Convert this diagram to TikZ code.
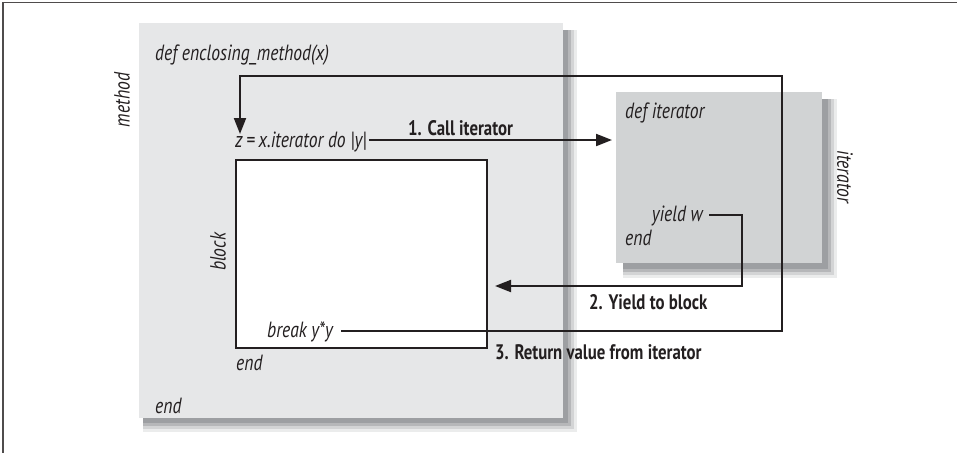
\documentclass[tikz,border=0pt]{standalone}
\usepackage{fontspec}
\setmainfont{PT Sans}[FakeStretch=0.8]
\usetikzlibrary{arrows.meta}
\definecolor{methodgray}{RGB}{230,231,232}
\definecolor{itergray}{RGB}{209,211,212}
\definecolor{shadowgray}{RGB}{157,159,162}
\definecolor{ink}{RGB}{35,31,32}

\begin{document}
\begin{tikzpicture}[x=1pt, y=-1pt,
    code/.style={font=\fontsize{22}{26}\selectfont\itshape, text=ink, inner sep=0pt},
    steplabel/.style={font=\fontsize{21}{25}\selectfont\bfseries, text=ink, inner sep=0pt},
    flow/.style={ink, line width=2pt},
    tip/.style={-{Triangle[length=16pt,width=12pt]}}]
    \useasboundingbox (0,0) rectangle (957,453);
    \fill[white] (0,0) rectangle (957,453);
    \draw[ink!80, line width=1.2pt] (957,2.5) -- (3,2.5) -- (3,453);

    \foreach \d/\t in {0/20,3/45,6/75,9/100}
        \fill[shadowgray!\t!white] (143,30) rectangle (577-\d,432-\d);
    \node[fill=methodgray, inner sep=0, minimum width=424pt, minimum height=395pt, anchor=north west] (method) at (139,23) {};
    \foreach \d/\t in {0/20,3/45,6/75,9/100}
        \fill[shadowgray!\t!white] (623,99) rectangle (837-\d,278-\d);
    \node[fill=itergray, inner sep=0, minimum width=206pt, minimum height=171pt, anchor=north west] (itbox) at (616,92) {};
    \node[draw=ink, line width=2pt, fill=white, inner sep=0, minimum width=251pt, minimum height=188pt, anchor=north west] (blk) at (235,159) {};

    \node[code, anchor=base west] (defm) at (155,60) {def enclosing\_method(x)};
    \node[code, anchor=base west] (zcall) at (235,147) {z\,=\,x.iterator do |y|};
    \node[code, anchor=base west] (brk) at (267,337) {break y*y};
    \node[code, anchor=base west] (blkend) at (236,370) {end};
    \node[code, anchor=base west] (methend) at (155,413) {end};
    \node[code, anchor=base west] (defit) at (625,118) {def iterator};
    \node[code, anchor=base east] (yieldw) at (703,221) {yield w};
    \node[code, anchor=base west] (itend) at (625,245) {end};
    \node[code, rotate=90] (methlbl) at (122,100) {method};
    \node[code, rotate=90] (blklbl) at (218,252) {block};
    \node[code, rotate=-90] (itlbl) at (845,177) {iterator};

    \node[steplabel, anchor=base west] (call) at (408,135) {1. Call iterator};
    \node[steplabel, anchor=base west] (yieldlbl) at (589,309) {2. Yield to block};
    \node[steplabel, anchor=base west] (ret) at (495,359) {3. Return value from iterator};

    \coordinate (callto) at (612,140);
    \coordinate (yieldturn) at (742,286);
    \coordinate (loopturn) at (782,76);
    \coordinate (loopdown) at (240,134);
    \draw[flow, tip] ([xshift=2pt]zcall.east |- callto) -- (callto);
    \draw[flow, tip] ([xshift=6pt]yieldw.east) -| (yieldturn) -- ([xshift=7pt]blk.east |- yieldturn);
    \draw[flow, tip] ([xshift=8pt]brk.east) -| (loopturn) -| (loopdown);
\end{tikzpicture}
\end{document}
